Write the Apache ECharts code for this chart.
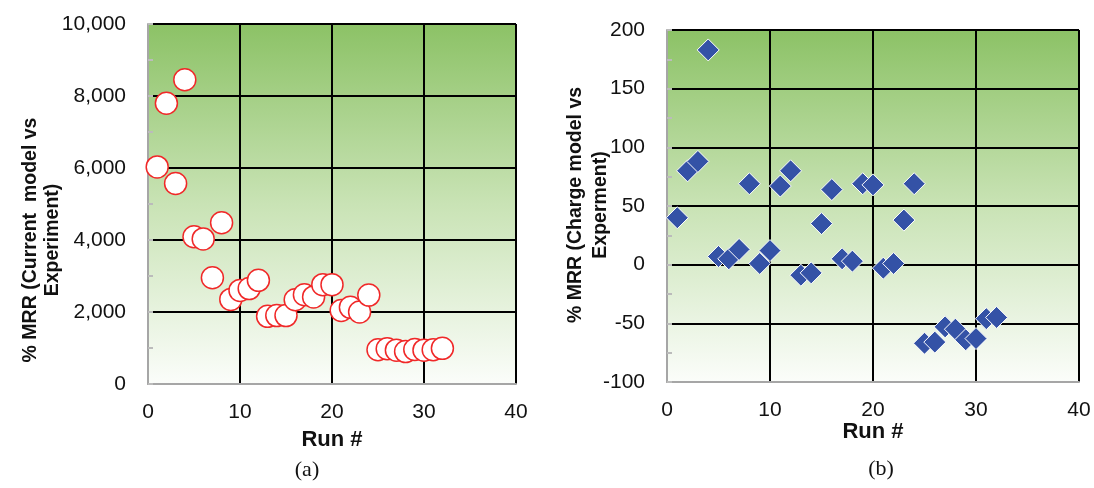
<!DOCTYPE html>
<html>
<head>
<meta charset="utf-8">
<script src="https://cdn.jsdelivr.net/npm/echarts@6/dist/echarts.min.js"></script>
<style>
html,body{margin:0;padding:0;background:#fff;}
#c{width:1094px;height:488px;}
</style>
</head>
<body>
<div id="c"></div>
<script>
// Data
const runs = [1,2,3,4,5,6,7,8,9,10,11,12,13,14,15,16,17,18,19,20,21,22,23,24,25,26,27,28,29,30,31,32];
const currentModelMRR = [6030,7800,5570,8450,4090,4030,2950,4480,2350,2600,2650,2880,1880,1900,1900,2340,2480,2420,2760,2760,2040,2130,2000,2470,950,980,940,900,960,940,950,990];
const chargeModelMRR = [40,80,88,183,7,5,13,69,1,12,67,80,-9,-7,35,64,5,3,69,68,-3,1,38,69,-67,-66,-53,-55,-64,-63,-46,-45];
const xTicks = [0,10,20,30,40];
const leftYTicks = [0,2000,4000,6000,8000,10000];
const rightYTicks = [-100,-50,0,50,100,150,200];
const leftYTitle = '% MRR (Current  model vs\nExperiment)';
const rightYTitle = '% MRR (Charge model vs\nExperment)';
const xTitle = 'Run #';
const panelA = '(a)';
const panelB = '(b)';

const FONT = '"Liberation Sans Narrow", "Arial Narrow", "Liberation Sans", Arial, sans-serif';
const chart = echarts.init(document.getElementById('c'), null, {renderer:'canvas'});

const bg = new echarts.graphic.LinearGradient(0,0,0,1,[
  {offset:0,color:'#8cc266'},
  {offset:0.5,color:'#c9e3b5'},
  {offset:1,color:'#fbfdfa'}
]);

function xAxisCfg(idx){
  return {
    gridIndex: idx, type:'value',
    min: xTicks[0], max: xTicks[xTicks.length-1], interval: xTicks[1]-xTicks[0],
    axisLine:{show:true, onZero:false, lineStyle:{color:'#a6a6a6', width:2}},
    axisTick:{show:false},
    axisLabel:{color:'#111', fontFamily:FONT, fontSize:21, margin:18},
    splitLine:{show:true, lineStyle:{color:'#000', width:2}}
  };
}
function yAxisCfg(idx, ticks, fmt){
  return {
    gridIndex: idx, type:'value',
    min: ticks[0], max: ticks[ticks.length-1], interval: ticks[1]-ticks[0],
    axisLine:{show:true, onZero:false, lineStyle:{color:'#a6a6a6', width:2}},
    axisTick:{show:true, inside:true, length:5, lineStyle:{color:'#bbbbbb', width:2}},
    minorTick:{show:true, splitNumber:2, length:5, lineStyle:{color:'#bbbbbb', width:2}},
    axisLabel:{color:'#111', fontFamily:FONT, fontSize:21, margin:22, formatter: fmt},
    splitLine:{show:true, lineStyle:{color:'#000', width:2}}
  };
}

const option = {
  animation:false,
  backgroundColor:'#fff',
  grid:[
    {left:148, right:1094-516, top:24, bottom:488-384, show:true, backgroundColor:bg, borderWidth:0},
    {left:667, right:1094-1079, top:30, bottom:488-382, show:true, backgroundColor:bg, borderWidth:0}
  ],
  xAxis:[xAxisCfg(0), xAxisCfg(1)],
  yAxis:[
    yAxisCfg(0, leftYTicks, v => v.toLocaleString('en-US')),
    yAxisCfg(1, rightYTicks, v => String(v))
  ],
  series:[
    {
      type:'scatter', xAxisIndex:0, yAxisIndex:0,
      data: runs.map((r,i)=>[r,currentModelMRR[i]]),
      symbol:'circle', symbolSize:22,
      itemStyle:{color:'#ffffff', borderColor:'#f02828', borderWidth:1.5, opacity:1},
      z:5
    },
    {
      type:'scatter', xAxisIndex:1, yAxisIndex:1,
      data: runs.map((r,i)=>[r,chargeModelMRR[i]]),
      symbol:'diamond', symbolSize:22,
      itemStyle:{color:'#3452a6', borderColor:'#ffffff', borderWidth:1, opacity:1},
      z:5
    }
  ],
  graphic:[
    {type:'text', x:42, y:240, rotation:Math.PI/2,
     style:{text:leftYTitle, font:'bold 19.5px '+FONT, fill:'#111', textAlign:'center', textVerticalAlign:'middle', lineHeight:22}},
    {type:'text', x:588, y:205, rotation:Math.PI/2,
     style:{text:rightYTitle, font:'bold 19.5px '+FONT, fill:'#111', textAlign:'center', textVerticalAlign:'middle', lineHeight:25}},
    {type:'text', x:332, y:440,
     style:{text:xTitle, font:'bold 22px '+FONT, fill:'#111', textAlign:'center', textVerticalAlign:'middle'}},
    {type:'text', x:873, y:432,
     style:{text:xTitle, font:'bold 22px '+FONT, fill:'#111', textAlign:'center', textVerticalAlign:'middle'}},
    {type:'text', x:307, y:470,
     style:{text:panelA, font:'22px "Liberation Serif", "Times New Roman", serif', fill:'#111', textAlign:'center', textVerticalAlign:'middle'}},
    {type:'text', x:881, y:469,
     style:{text:panelB, font:'22px "Liberation Serif", "Times New Roman", serif', fill:'#111', textAlign:'center', textVerticalAlign:'middle'}}
  ]
};
chart.setOption(option);
</script>
</body>
</html>
